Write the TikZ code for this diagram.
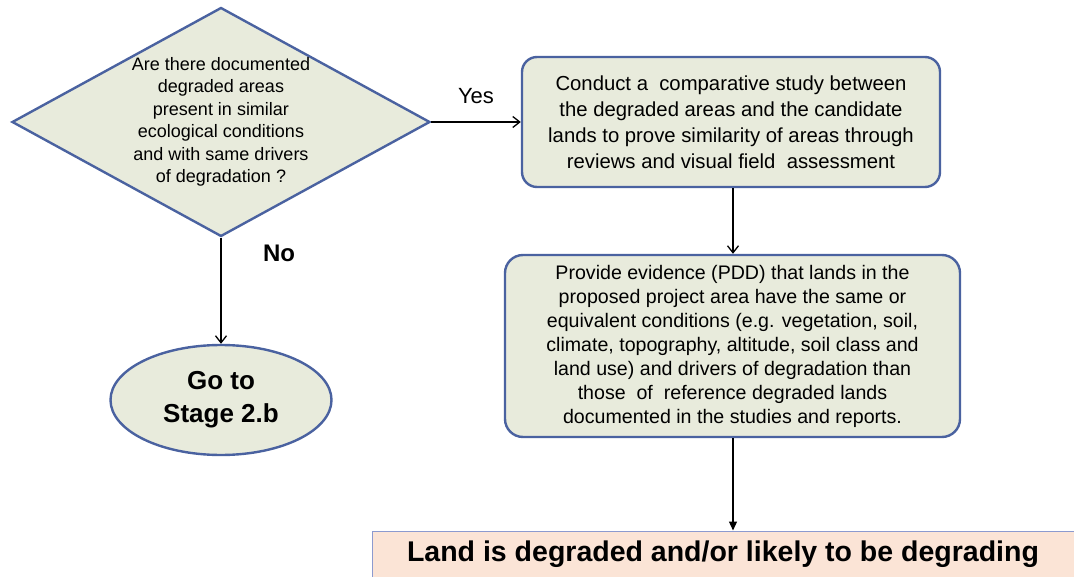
\documentclass[tikz,border=0pt]{standalone}
\usepackage{fontspec}
\setmainfont{Liberation Sans}
\usepackage{xcolor}
\usetikzlibrary{shapes.geometric, arrows.meta, positioning}

\definecolor{boxfill}{HTML}{E8EBDC}
\definecolor{boxline}{HTML}{4A62A0}
\definecolor{bannerfill}{HTML}{FBE4D6}
\definecolor{bannerline}{HTML}{8C9ACF}

\begin{document}
\begin{tikzpicture}[x=1pt, y=-1pt,
    shapebox/.style={draw=boxline, fill=boxfill, line width=2.4pt},
    flow/.style={line width=1.3pt, -{Straight Barb[length=7pt, width=11pt]}}]
        \useasboundingbox (0,0) rectangle (1074,577);

        % Pergunta
        \node[shapebox, diamond, minimum width=418pt, minimum height=229pt, inner sep=0pt] (q) at (221,122) {};
        \node[align=center, font=\fontsize{18}{22.5}\selectfont] (qtext) at (q.center) {Are there documented\\ degraded areas\\ present in similar\\ ecological conditions\\ and with same drivers\\ of degradation ?};

        % Ramo Yes
        \node[shapebox, rectangle, rounded corners=15pt, minimum width=418pt, minimum height=130pt, align=center,
              font=\fontsize{20.3}{26}\selectfont] (study) at (731,122)
              {Conduct a~ comparative study between\\ the degraded areas and the candidate\\ lands to prove similarity of areas through\\ reviews and visual field~ assessment};
        \node[shapebox, rectangle, rounded corners=18pt, minimum width=455pt, minimum height=182pt, align=center,
              font=\fontsize{19.6}{24}\selectfont] (evidence) at (732.5,346)
              {Provide evidence (PDD) that lands in the\\ proposed project area have the same or\\ equivalent conditions (e.g. vegetation, soil,\\ climate, topography, altitude, soil class and\\ land use) and drivers of degradation than\\ those~ of~ reference degraded lands\\ documented in the studies and reports.};
        \node[draw=bannerline, fill=bannerfill, line width=1pt, rectangle, minimum width=702pt, minimum height=46pt,
              font=\fontsize{28.5}{30}\selectfont\bfseries] (land) at (723,554) {Land is degraded and/or likely to be degrading};

        % Ramo No
        \node[shapebox, ellipse, minimum width=221pt, minimum height=110pt, align=center,
              font=\fontsize{26}{33}\selectfont\bfseries] (goto) at (221,400) {Go to\\ Stage 2.b};

        \draw[flow] (q.east) -- node[above=14pt, font=\fontsize{22}{24}\selectfont]{Yes} (study.west);
        \draw[flow] (study.south -| 733,0) -- (evidence.north -| 733,0);
        \draw[line width=1.3pt, -{Triangle[length=9pt, width=8pt]}] (evidence.south -| 733,0) -- (land.north -| 733,0);
        \draw[flow] (q.south) -- (goto.north);
        \node[font=\fontsize{24}{26}\selectfont\bfseries] (no) at (279,253) {No};
    \end{tikzpicture}
\end{document}
